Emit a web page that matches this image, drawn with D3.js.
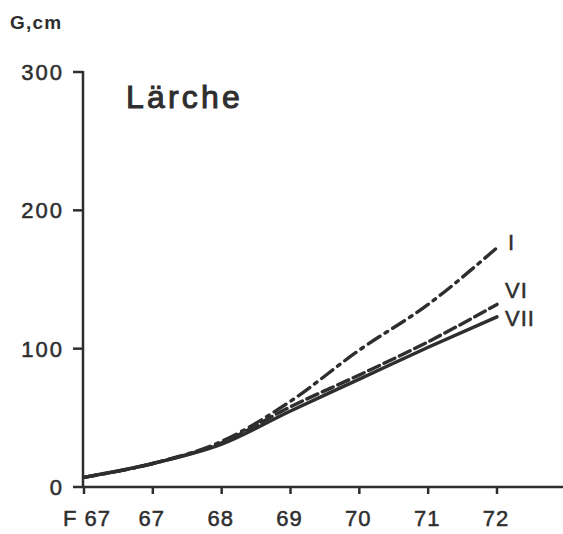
<!DOCTYPE html>
<html><head><meta charset="utf-8">
<script src="https://cdn.jsdelivr.net/npm/d3@7"></script>
<style>
body{margin:0;background:#fff;}
svg{display:block;font-family:"Liberation Sans",Arial,sans-serif;}
</style></head>
<body><svg id="c" width="563" height="534"></svg>
<script>
const categories = ["F 67","67","68","69","70","71","72"];
const seriesI   = [7, 17, 33, 62, 99, 132, 173];
const seriesVI  = [7, 17, 32, 58, 81, 105, 132];
const seriesVII = [7, 17, 31, 55, 78, 101, 123];
const yTicks = [0,100,200,300];

const svg = d3.select("#c");
const ink = "#2e2e2e";
const x = d3.scalePoint().domain(categories).range([84, 497]);
const y = d3.scaleLinear().domain([0,300]).range([487, 72]);

// x axis
const gx = svg.append("g").attr("transform","translate(0,487)");
gx.append("line").attr("x1",83).attr("x2",563).attr("y1",0).attr("y2",0)
  .attr("stroke",ink).attr("stroke-width",2.5);
gx.selectAll("line.t").data(categories).join("line").attr("class","t")
  .attr("x1",d=>x(d)).attr("x2",d=>x(d)).attr("y1",0).attr("y2",7)
  .attr("stroke",ink).attr("stroke-width",2.5);
gx.selectAll("text").data(categories).join("text")
  .attr("x",d=>x(d)+(d==="F 67"?3:-1)).attr("y",39).attr("text-anchor","middle")
  .attr("font-size",22).attr("letter-spacing",1).attr("fill",ink).attr("stroke",ink).attr("stroke-width",0.5)
  .text(d=>d);

// y axis
const gy = svg.append("g");
gy.append("line").attr("x1",83).attr("x2",83).attr("y1",y(300)-1).attr("y2",488)
  .attr("stroke",ink).attr("stroke-width",2.5);
gy.selectAll("line.t").data(yTicks).join("line").attr("class","t")
  .attr("x1",73).attr("x2",83).attr("y1",d=>y(d)).attr("y2",d=>y(d))
  .attr("stroke",ink).attr("stroke-width",2.5);
gy.selectAll("text").data(yTicks).join("text")
  .attr("x",64).attr("y",d=>y(d)+8).attr("text-anchor","end")
  .attr("font-size",22).attr("letter-spacing",2).attr("fill",ink).attr("stroke",ink).attr("stroke-width",0.5)
  .text(d=>d);

svg.append("text").attr("x",10).attr("y",29).attr("font-size",19).attr("font-weight","bold")
  .attr("letter-spacing",1.2).attr("fill",ink).text("G,cm");
svg.append("text").attr("x",126).attr("y",108).attr("font-size",32).attr("letter-spacing",3.2)
  .attr("fill",ink).attr("stroke",ink).attr("stroke-width",1).text("Lärche");

const line = d3.line().x((d,i)=>x(categories[i])).y(d=>y(d)).curve(d3.curveMonotoneX);
const series = [
  {name:"I", vals:seriesI, dash:"14,6,3,6"},
  {name:"VI", vals:seriesVI, dash:"12,5"},
  {name:"VII", vals:seriesVII, dash:null}
];
series.forEach(s=>{
  svg.append("path").attr("d",line(s.vals)).attr("fill","none")
    .attr("stroke",ink).attr("stroke-width",3.4)
    .attr("stroke-dasharray",s.dash).attr("stroke-linecap","round");
});
const labelPos = {I:[508,250], VI:[505,298], VII:[505,326]};
series.forEach(s=>{
  svg.append("text").attr("x",labelPos[s.name][0]).attr("y",labelPos[s.name][1])
    .attr("font-size",22).attr("letter-spacing",1).attr("fill",ink).attr("stroke",ink).attr("stroke-width",0.5)
    .text(s.name);
});
</script></body></html>
